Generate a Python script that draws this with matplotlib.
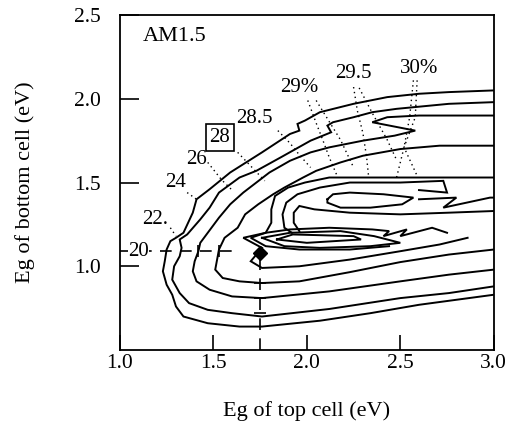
import matplotlib
matplotlib.use("Agg")
import matplotlib.pyplot as plt

# contour traces (Eg top, Eg bottom) in eV
c20_x = [3.00, 2.76, 2.60, 2.43, 2.25, 2.07, 1.99, 1.95, 1.96, 1.91, 1.76, 1.59, 1.48, 1.41, 1.39, 1.34, 1.30, 1.27,
         1.25, 1.24, 1.23, 1.25, 1.28, 1.30, 1.34, 1.47, 1.64, 1.76, 2.07, 2.34, 2.60, 3.00]
c20_y = [2.05, 2.04, 2.03, 2.01, 1.97, 1.92, 1.87, 1.85, 1.81, 1.79, 1.68, 1.56, 1.46, 1.40, 1.32, 1.20, 1.17, 1.15,
         1.10, 1.03, 0.97, 0.89, 0.83, 0.76, 0.70, 0.66, 0.64, 0.64, 0.675, 0.72, 0.77, 0.83]

c22_x = [3.00, 2.76, 2.48, 2.35, 2.25, 2.14, 2.11, 2.13, 2.02, 1.86, 1.73, 1.64, 1.53, 1.48, 1.43, 1.36, 1.32, 1.33,
         1.32, 1.29, 1.28, 1.32, 1.37, 1.47, 1.60, 1.76, 2.12, 2.50, 2.76, 3.00]
c22_y = [1.98, 1.97, 1.94, 1.92, 1.89, 1.86, 1.84, 1.80, 1.75, 1.65, 1.57, 1.53, 1.44, 1.35, 1.28, 1.19, 1.16, 1.11,
         1.06, 1.00, 0.92, 0.84, 0.78, 0.74, 0.72, 0.70, 0.745, 0.81, 0.84, 0.88]

c24_x = [3.00, 2.60, 2.43, 2.35, 2.58, 2.47, 2.30, 2.12, 2.02, 1.91, 1.80, 1.66, 1.59, 1.53, 1.47, 1.43, 1.42, 1.40,
         1.39, 1.41, 1.48, 1.60, 1.76, 2.12, 2.50, 2.76, 3.00]
c24_y = [1.90, 1.90, 1.89, 1.86, 1.81, 1.78, 1.75, 1.71, 1.68, 1.63, 1.56, 1.44, 1.37, 1.29, 1.20, 1.14, 1.09, 1.03,
         0.97, 0.91, 0.86, 0.82, 0.81, 0.85, 0.91, 0.95, 0.98]

c26_x = [3.00, 2.71, 2.50, 2.30, 2.18, 2.05, 1.98, 1.88, 1.82, 1.74, 1.67, 1.63, 1.56, 1.53, 1.52, 1.51, 1.55, 1.64,
         1.76, 1.96, 2.23, 2.50, 2.76, 3.00]
c26_y = [1.72, 1.72, 1.70, 1.66, 1.62, 1.57, 1.53, 1.47, 1.43, 1.37, 1.31, 1.23, 1.17, 1.10, 1.04, 0.98, 0.93, 0.91,
         0.90, 0.91, 0.965, 1.025, 1.07, 1.10]

c28_x = [3.00, 2.71, 2.39, 2.12, 1.99, 1.90, 1.83, 1.81, 1.81, 1.78, 1.66, 1.76, 1.70, 1.76, 1.96, 2.23, 2.50, 2.71,
         2.86]
c28_y = [1.53, 1.53, 1.53, 1.53, 1.50, 1.47, 1.42, 1.34, 1.26, 1.20, 1.17, 1.11, 1.03, 0.99, 1.00, 1.04, 1.09, 1.13,
         1.17]

# inner levels (28.5 - 30 %) around the upper maximum
up1_x = [2.60, 2.75, 2.73, 2.50, 2.23, 2.07, 1.95, 1.89, 1.87, 1.88, 1.92]
up1_y = [1.455, 1.44, 1.51, 1.50, 1.50, 1.47, 1.43, 1.38, 1.31, 1.23, 1.20]

up2_x = [3.00, 2.76, 2.50, 2.23, 2.04, 1.96, 1.93, 1.93, 1.96]
up2_y = [1.33, 1.32, 1.31, 1.32, 1.34, 1.36, 1.32, 1.26, 1.21]

up_zig_x = [2.60, 2.80, 2.73, 2.98, 3.00]
up_zig_y = [1.40, 1.41, 1.35, 1.41, 1.41]

top30_x = [2.11, 2.14, 2.23, 2.41, 2.57, 2.51, 2.34, 2.18, 2.11, 2.11]
top30_y = [1.40, 1.43, 1.44, 1.43, 1.41, 1.37, 1.35, 1.35, 1.38, 1.40]

# inner levels around the lower maximum
lo1_x = [2.75, 2.67, 2.50, 2.535, 2.41, 2.44, 2.35, 2.12, 1.91, 1.78, 1.70, 1.78, 1.96, 2.23, 2.44]
lo1_y = [1.20, 1.23, 1.18, 1.22, 1.18, 1.21, 1.22, 1.23, 1.22, 1.20, 1.17, 1.12, 1.10, 1.10, 1.12]

lo2_x = [1.76, 1.91, 2.18, 2.36, 2.50, 2.34, 2.07, 1.88, 1.76]
lo2_y = [1.17, 1.20, 1.21, 1.18, 1.14, 1.12, 1.11, 1.12, 1.17]

low30_x = [1.84, 1.925, 2.25, 2.29, 2.00, 1.84]
low30_y = [1.16, 1.19, 1.18, 1.16, 1.14, 1.16]

# dashed guides through the chosen point, and the point itself
pick_x, pick_y = 1.75, 1.08
guide_y = 1.09
hguide_x = [1.00, 1.64]
vguide_y = [0.50, 1.08]
hcross_x = [1.42, 1.53]
vcross_y = [0.90, 0.72, 0.81]

labels = ["20", "22.", "24", "26", "28", "28.5", "29%", "29.5", "30%"]
label_x = [1.10, 1.19, 1.30, 1.41, 1.535, 1.72, 1.96, 2.25, 2.60]
label_y = [1.09, 1.28, 1.50, 1.64, 1.77, 1.885, 2.07, 2.15, 2.18]

# dotted leader lines from the level labels
leaders = [
    ([1.27, 1.30], [1.23, 1.18]),
    ([1.36, 1.41], [1.44, 1.40]),
    ([1.47, 1.545, 1.60], [1.62, 1.515, 1.455]),
    ([1.63, 1.72, 1.775], [1.68, 1.575, 1.51]),
    ([1.845, 1.91, 1.96, 2.02], [1.81, 1.735, 1.665, 1.59]),
    ([2.005, 2.05, 2.085, 2.12, 2.16], [1.99, 1.855, 1.755, 1.65, 1.545]),
    ([2.05, 2.18, 2.25], [1.99, 1.755, 1.59]),
    ([2.25, 2.27, 2.30, 2.32, 2.33], [2.07, 1.93, 1.795, 1.65, 1.54]),
    ([2.28, 2.35, 2.43, 2.48], [2.065, 1.915, 1.755, 1.635]),
    ([2.57, 2.55, 2.52, 2.48], [2.11, 1.89, 1.71, 1.53]),
    ([2.59, 2.58, 2.52, 2.59], [2.11, 1.89, 1.71, 1.54]),
]

plt.rcParams['font.family'] = ['Liberation Serif', 'DejaVu Serif']

fig = plt.figure(figsize=(5.08, 4.30), dpi=100)
ax = fig.add_axes([0.236, 0.186, 0.736, 0.779])

traces = [(c20_x, c20_y), (c22_x, c22_y), (c24_x, c24_y), (c26_x, c26_y), (c28_x, c28_y),
          (up1_x, up1_y), (up2_x, up2_y), (up_zig_x, up_zig_y), (top30_x, top30_y),
          (lo1_x, lo1_y), (lo2_x, lo2_y), (low30_x, low30_y)]
for xs, ys in traces:
    ax.plot(xs, ys, color='black', lw=1.4, solid_joinstyle='miter')

for xs, ys in leaders:
    ax.plot(xs, ys, color='black', lw=1.0, ls=(0, (1, 2.5)))

ax.plot(hguide_x, [guide_y, guide_y], color='black', lw=1.2, ls=(0, (7, 5)))
ax.plot([pick_x, pick_x], vguide_y, color='black', lw=1.2, ls=(0, (7, 5)))
ax.plot(hcross_x, [guide_y] * len(hcross_x), '|', color='black', ms=9, mew=1.2)
ax.plot([pick_x] * len(vcross_y), vcross_y, '_', color='black', ms=9, mew=1.2)
ax.plot(pick_x, pick_y, 'D', color='black', ms=7)

ax.text(1.12, 2.37, "AM1.5", fontsize=16, ha='left', va='center')
for txt, lx, ly in zip(labels, label_x, label_y):
    if txt == "28":
        ax.text(lx, ly, txt, fontsize=15, ha='center', va='center',
                bbox=dict(boxstyle='square,pad=0.18', fc='white', ec='black', lw=1.2))
    else:
        ax.text(lx, ly, txt, fontsize=15, ha='center', va='center',
                bbox=dict(boxstyle='square,pad=0.0', fc='white', ec='none'))

ax.set_xlim(1.0, 3.0)
ax.set_ylim(0.5, 2.5)
ax.set_xticks([1.0, 1.5, 2.0, 2.5, 3.0])
ax.set_yticks([1.0, 1.5, 2.0, 2.5])
ax.tick_params(direction='in', width=1.2, labelsize=15.5, top=False, right=False)
ax.tick_params(axis='y', length=14, pad=14)
ax.tick_params(axis='x', length=11, pad=3)
for s in ax.spines.values():
    s.set_linewidth(1.3)

ax.set_xlabel("Eg of top cell (eV)", fontsize=16, labelpad=20)
ax.set_ylabel("Eg of bottom cell (eV)", fontsize=16, labelpad=28)

fig.savefig("out.png", dpi=100)
